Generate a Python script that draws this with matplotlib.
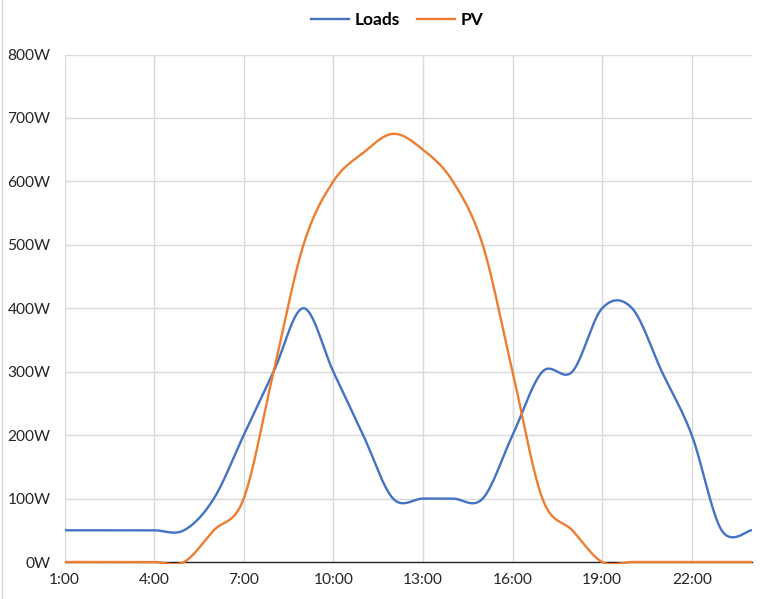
import numpy as np
import matplotlib
matplotlib.use("Agg")
import matplotlib.pyplot as plt
from matplotlib.transforms import Bbox, TransformedBbox
from matplotlib.lines import Line2D

hours = [f"{h}:00" for h in range(1, 25)]
loads = [50, 50, 50, 50, 50, 100, 200, 300, 400, 300, 200, 100,
         100, 100, 100, 200, 300, 300, 400, 400, 300, 200, 50, 50]
pv = [0, 0, 0, 0, 0, 50, 100, 300, 500, 600, 645, 675,
      650, 600, 500, 300, 100, 50, 0, 0, 0, 0, 0, 0]
yticks = [0, 100, 200, 300, 400, 500, 600, 700, 800]
ytick_labels = [f"{v}W" for v in yticks]

def smooth(y, n=40):
    # Excel-like smoothing (Catmull-Rom / Bezier with 1/6 tension)
    y = np.asarray(y, float)
    x = np.arange(len(y), dtype=float)
    px = np.concatenate([[x[0]], x, [x[-1]]])
    py = np.concatenate([[y[0]], y, [y[-1]]])
    xs, ys = [], []
    t = np.linspace(0, 1, n, endpoint=False)
    for i in range(1, len(px) - 2):
        p0x, p1x, p2x, p3x = px[i-1], px[i], px[i+1], px[i+2]
        p0y, p1y, p2y, p3y = py[i-1], py[i], py[i+1], py[i+2]
        c1x = p1x + (p2x - p0x) / 6; c1y = p1y + (p2y - p0y) / 6
        c2x = p2x - (p3x - p1x) / 6; c2y = p2y - (p3y - p1y) / 6
        b0 = (1-t)**3; b1 = 3*(1-t)**2*t; b2 = 3*(1-t)*t**2; b3 = t**3
        xs.append(b0*p1x + b1*c1x + b2*c2x + b3*p2x)
        ys.append(b0*p1y + b1*c1y + b2*c2y + b3*p2y)
    xs.append([x[-1]]); ys.append([y[-1]])
    return np.concatenate(xs), np.concatenate(ys)

plt.rcParams['font.family'] = ['Lato', 'DejaVu Sans']

fig = plt.figure(figsize=(7.79, 5.99), dpi=100)
ax = fig.add_axes([64.5/779, 1-562/599, (751.5-64.5)/779, (562-54.5)/599])

x = np.arange(len(hours))
ax.set_xlim(0, len(hours)-1)
ax.set_ylim(0, 800)

ax.set_yticks(yticks)
ax.set_yticklabels(ytick_labels)
ax.set_xticks(x[::3])
ax.set_xticklabels(hours[::3])
ax.tick_params(axis='both', length=0, labelsize=11.2, colors='#404040', labelcolor='#262626')
ax.tick_params(axis='y', pad=10)
ax.tick_params(axis='x', pad=8)

ax.grid(True, color='#d9d9d9', lw=1.0)
ax.set_axisbelow(True)
for s in ['top', 'right', 'left']:
    ax.spines[s].set_visible(False)
ax.spines['bottom'].set_color('#262626')
ax.spines['bottom'].set_linewidth(1.0)
ax.spines['bottom'].set_zorder(1.5)

clip = TransformedBbox(Bbox([[0, -0.003], [1, 1]]), ax.transAxes)
sx, sy = smooth(loads)
l1, = ax.plot(sx, sy, color='#4472C4', lw=1.7, label='Loads', zorder=3)
sx, sy = smooth(pv)
l2, = ax.plot(sx, sy, color='#ED7D31', lw=1.7, label='PV', zorder=3)
for l in (l1, l2):
    l.set_clip_box(clip)

leg = fig.legend(handles=[l1, l2], loc='center', bbox_to_anchor=(397/779, 1-20/599),
                 ncol=2, frameon=False, prop={'weight': 'bold', 'size': 12.5},
                 handlelength=2.2, handletextpad=0.3, columnspacing=1.0)

fig.add_artist(Line2D([1.5/779, 1.5/779], [0, 1], color='#d9d9d9', lw=1))

fig.savefig('out.png', dpi=100)
